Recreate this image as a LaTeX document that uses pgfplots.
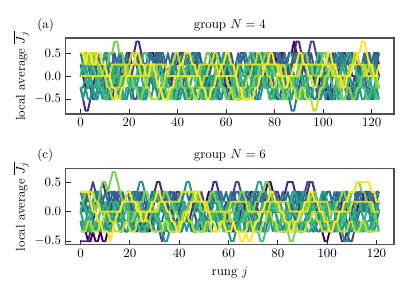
\documentclass[border=0pt]{standalone}
\usepackage{pgfplots}
\usepackage{pgfplotstable}
\pgfplotsset{compat=1.18}
\definecolor{v0}{HTML}{440154}
\definecolor{v1}{HTML}{482576}
\definecolor{v2}{HTML}{414487}
\definecolor{v3}{HTML}{35608D}
\definecolor{v4}{HTML}{2A788E}
\definecolor{v5}{HTML}{21918C}
\definecolor{v6}{HTML}{22A884}
\definecolor{v7}{HTML}{44BF70}
\definecolor{v8}{HTML}{7AD151}
\definecolor{v9}{HTML}{BDDF26}
\definecolor{v10}{HTML}{D8E219}
\definecolor{v11}{HTML}{FDE725}
\definecolor{e1}{HTML}{2C728E}
\definecolor{e2}{HTML}{1E9B8A}
\definecolor{e3}{HTML}{2EB37C}
\definecolor{e4}{HTML}{3B528B}
\definecolor{framegray}{HTML}{505050}
% top panel: values in units of 1/4, one row per curve, one column per rung j = 0..123
\pgfplotstableread[header=false]{
0 0 -1 -1 0 1 1 0 -1 -1 -2 -2 -1 0 0 -1 -1 0 1 2 2 1 1 2 2 1 0 0 1 2 2 1 2 2 1 1 0 -1 -1 0 0 1 1 0 -1 -2 -2 -1 -1 0 1 1 0 0 -1 -1 0 1 1 0 -1 -1 -2 -2 -1 -2 -2 -1 0 0 1 1 0 -1 -1 0 0 1 1 2 2 1 1 2 2 1 2 2 3 2 1 1 2 2 1 0 0 -1 -1 0 0 -1 -2 -2 -1 -1 0 0 1 1 0 -1 -1 -2 -2 -1 0 1 1 0 0 1 1 0
-1 -2 -3 -3 -2 -1 0 0 1 1 0 -1 -1 0 1 1 2 2 1 1 2 2 2 3 3 2 1 1 0 0 -1 -1 0 0 -1 -2 -2 -1 0 1 1 2 2 1 1 0 0 1 2 2 1 0 0 -1 -2 -2 -1 0 0 1 1 0 -1 -1 -2 -2 -1 -1 0 1 2 2 1 1 0 0 1 1 2 2 1 1 2 2 1 0 0 1 2 3 3 2 2 1 1 0 -1 -1 -2 -2 -1 -2 -2 -1 0 0 1 1 2 2 1 1 0 0 -1 -1 0 1 2 2 1 2 2 1
1 1 0 -1 -1 -2 -2 -1 0 0 -1 -1 -2 -2 -1 0 0 1 1 0 0 -1 -2 -2 -1 -1 -2 -2 -1 0 0 1 1 0 -1 -1 0 0 -1 -2 -2 -1 -1 0 1 1 0 0 -1 -1 -2 -2 -1 -1 0 0 -1 -2 -2 -1 0 0 1 1 0 0 -1 -1 -2 -2 -1 -1 0 1 1 0 -1 -1 0 0 -1 -2 -2 -1 0 0 1 1 0 -1 -1 0 1 2 2 3 3 2 1 1 0 0 -1 -2 -2 -1 0 0 -1 -1 -2 -2 -1 0 0 1 1 0 -1 -1 -2 -2 -1 -1
2 2 1 1 2 2 1 0 0 1 2 2 1 1 0 0 -1 -1 0 1 1 2 2 1 0 0 1 1 2 2 1 1 2 2 1 1 0 0 1 2 2 1 0 0 1 1 2 2 1 0 0 1 2 2 1 1 0 0 1 1 2 2 1 0 0 1 2 2 1 1 0 -1 -1 0 1 1 2 2 1 1 2 2 1 0 0 -1 -1 0 1 2 2 1 1 2 2 1 0 0 1 1 2 2 1 1 0 0 1 2 2 1 1 2 2 1 0 0 1 1 2 2 1 1 2 2
0 0 1 1 0 -1 -1 0 0 -1 -2 -2 -1 -1 0 0 -1 -1 -2 -2 -1 0 0 -1 -1 -2 -2 -1 -1 0 0 -1 -2 -2 -1 0 0 -1 -1 -2 -2 -1 -1 -2 -2 -1 0 0 -1 -1 0 0 -1 -2 -2 -1 -1 0 0 -1 -1 -2 -2 -1 0 0 -1 -1 -2 -2 -1 -1 -2 -2 -1 0 0 -1 -2 -2 -1 -1 0 0 -1 -2 -2 -3 -3 -2 -1 -1 0 0 -1 -1 -2 -2 -1 -1 0 0 -1 -1 -2 -2 -1 0 0 -1 -1 -2 -2 -1 -1 0 0 -1 -1 -2 -2 -1 -1 0
-1 -1 0 0 -1 -1 -2 -2 -1 -1 0 1 1 0 0 1 2 2 1 1 0 0 -1 -1 0 0 1 1 0 0 -1 -1 -2 -2 -1 -1 0 0 1 1 0 0 -1 -1 0 1 1 2 2 1 1 0 0 1 1 2 2 1 1 0 0 -1 -1 0 0 1 1 0 0 -1 -1 0 1 1 2 2 1 1 0 0 1 1 0 0 -1 -1 0 0 -1 -1 -2 -2 -1 -1 0 0 1 1 0 0 -1 -1 0 0 1 1 2 2 1 1 0 0 -1 -1 0 0 1 1 0 0 -1 -1 0 0
0 1 1 0 0 -1 -1 0 1 1 2 2 1 1 0 0 -1 -2 -2 -1 -1 0 0 -1 -1 -2 -2 -1 0 0 1 1 0 0 -1 -1 -2 -2 -1 -1 0 0 1 1 2 2 1 0 0 -1 -1 -2 -2 -1 -1 0 0 1 1 2 2 1 1 0 0 -1 -1 -2 -2 -1 -1 0 0 1 1 0 0 -1 -1 0 0 1 1 0 -1 -1 -2 -2 -1 -1 0 0 -1 -1 -2 -2 -1 -1 0 0 1 1 0 0 -1 -1 0 0 1 1 2 2 1 1 0 -1 -1 0 0 1 1 0 0 -1
1 1 2 2 1 1 0 0 -1 -1 -2 -2 -1 -1 0 0 1 1 0 0 -1 -1 0 0 1 1 2 2 1 1 0 0 -1 -1 0 0 -1 -1 -2 -2 -1 -1 0 0 1 1 0 0 -1 -1 -2 -2 -1 -1 -2 -2 -1 -1 0 0 1 1 0 0 -1 -1 0 0 1 1 2 2 1 1 0 0 -1 -1 -2 -2 -1 -1 -2 -2 -1 -1 0 0 -1 -1 -2 -2 -1 -1 0 0 1 1 2 2 1 1 0 0 -1 -1 -2 -2 -1 -1 0 0 1 1 0 0 -1 -1 -2 -2 -1 -1 -2 -2
2 2 1 1 2 2 1 1 0 0 1 1 2 2 3 3 2 2 1 1 0 0 -1 -1 -2 -2 -1 -1 0 0 1 1 0 0 -1 -1 -2 -2 -1 -1 0 0 -1 -1 -2 -2 -1 -1 0 0 1 1 2 2 1 1 0 0 -1 -1 -2 -2 -1 -1 -2 -2 -1 -1 -2 -2 -1 -1 0 0 1 1 2 2 1 1 0 0 -1 -1 -2 -2 -1 -1 0 0 1 1 2 2 1 1 0 0 1 1 2 2 1 1 0 0 -1 -1 -2 -2 -1 -1 -2 -2 -1 -1 0 0 1 1 0 0 -1 -1
2 2 2 1 1 2 2 1 1 0 0 -1 -1 -2 -2 -1 -1 0 0 1 1 2 2 1 1 0 0 -1 -1 -2 -2 -2 -2 -1 -1 0 0 1 1 2 2 1 1 0 0 -1 -1 -2 -2 -1 -1 0 0 1 1 2 2 1 1 0 0 -1 -1 -2 -2 -2 -2 -1 -1 0 0 1 1 2 2 1 1 0 0 -1 -1 0 0 1 1 0 0 -1 -1 -2 -2 -1 -1 -2 -2 -2 -3 -3 -2 -1 -1 0 0 1 1 0 0 -1 -1 0 0 1 1 2 2 1 1 0 0 1 1 0 0 -1
0 0 0 0 0 0 0 0 0 0 0 0 0 1 1 1 1 1 1 0 0 0 0 0 0 0 0 1 1 1 1 1 1 1 1 1 0 0 0 0 0 0 0 0 0 0 0 0 0 1 1 1 1 1 1 1 1 0 0 0 0 0 0 0 0 1 1 1 1 1 1 1 1 1 1 1 1 1 1 1 1 1 1 0 0 0 0 0 0 0 0 1 1 1 1 1 1 1 1 1 1 1 1 1 0 0 0 0 0 0 0 0 1 1 1 1 1 1 0 0 0 0 0 0
2 2 1 2 2 1 1 2 2 1 1 0 0 -1 -1 -2 -2 -1 -1 0 0 1 1 2 2 1 1 0 0 1 1 0 -1 -1 -2 -2 -2 -1 -1 0 0 1 1 2 2 2 1 1 0 0 -1 -1 -2 -2 -1 -1 0 0 1 1 2 2 1 1 0 -1 -1 -2 -2 -2 -2 -2 -1 -1 0 0 1 1 2 2 1 1 0 0 -1 -1 0 0 1 1 2 2 1 1 0 0 -1 -1 0 0 1 1 2 2 1 1 0 0 -1 -1 0 0 1 1 2 2 3 3 2 1 1 0 0 1
2 1 2 1 2 2 1 2 1 1 2 1 2 2 1 0 1 2 1 2 1 2 2 1 2 1 0 0 1 2 1 2 1 2 2 1 2 1 0 1 2 1 2 2 1 2 1 2 1 1 0 -1 0 1 2 1 2 2 1 2 1 2 1 0 1 2 1 2 2 1 2 1 2 1 1 2 1 2 2 1 0 1 2 1 2 1 2 2 1 2 1 2 1 2 1 0 0 1 2 1 2 2 1 2 1 2 1 1 2 1 2 2 1 2 1 0 1 2 1 2 1 2 1 2
-1 -2 -1 -2 -2 -1 -2 -1 -1 -2 -1 -2 -2 -1 0 -1 -2 -1 -2 -2 -1 -2 -1 -1 -2 -1 -2 -2 -1 -2 -1 0 -1 -2 -1 -2 -2 -1 -2 -1 -2 -2 -1 -2 -1 -1 -2 -1 -2 -2 -1 -2 -1 0 0 -1 -2 -1 -2 -1 -2 -2 -1 -2 -1 -2 -2 -1 -1 -2 -1 -2 -1 -2 -2 -1 0 -1 -2 -1 -2 -1 -2 -2 -1 -2 -1 -2 -1 -1 -2 -1 -2 -2 -1 -2 -1 0 -1 -2 -1 -2 -1 -2 -2 -1 -2 -1 -2 -2 -1 -1 -2 -1 -2 -1 -2 -2 -1 -2 -1 -2 -1 -2
0 1 0 -1 0 1 0 -1 0 0 1 0 -1 0 1 1 0 -1 0 1 0 -1 -1 0 1 0 -1 0 1 0 0 -1 0 1 0 -1 0 1 1 0 -1 0 1 0 -1 -1 0 1 0 -1 0 1 0 0 -1 0 1 0 -1 0 1 1 0 -1 0 1 0 -1 0 1 0 -1 -1 0 1 0 -1 0 1 0 0 1 0 -1 0 1 1 0 -1 0 1 0 -1 0 1 0 -1 -1 0 1 0 -1 0 1 0 0 -1 0 1 0 -1 0 1 1 0 -1 0 1 0 -1 0 1 0 -1
1 0 1 2 1 0 1 2 2 1 0 1 0 1 2 1 2 1 0 1 1 0 1 2 1 2 1 0 1 0 1 2 2 1 0 1 0 1 2 1 0 1 1 0 1 2 1 0 1 2 1 0 1 0 1 2 2 1 0 1 0 1 2 1 0 0 1 2 1 0 1 0 1 2 1 2 1 0 1 1 0 1 2 1 0 1 0 1 2 2 1 0 1 0 1 2 1 0 1 2 1 0 0 1 2 1 0 1 2 1 0 1 2 1 0 1 1 0 1 2 1 0 1 2
}\rawtop
% bottom panel: values in units of 1/6, one row per curve, one column per rung j = 0..121
\pgfplotstableread[header=false]{
-1 -2 -2 -3 -3 -2 -3 -3 -2 -3 -3 -2 -1 -1 0 0 -1 -1 -2 -2 -1 0 1 1 0 0 -1 -2 -2 -1 0 0 1 2 2 1 0 0 -1 -1 0 1 1 0 -1 -1 -2 -2 -1 0 0 1 2 2 1 1 0 -1 -1 0 0 -1 -2 -2 -1 0 0 1 1 2 2 1 0 0 1 2 3 3 2 1 0 0 -1 -1 0 1 1 0 -1 -2 -2 -1 0 0 1 1 0 -1 -2 -3 -3 -2 -1 -1 0 0 1 1 0 0 -1 -1 0 1 1 2 2 1 0 0 1 1
-3 -3 -3 -3 -2 -1 0 1 2 3 2 2 1 0 -1 -1 0 1 1 2 2 1 0 0 -1 -2 -2 -1 0 1 2 3 3 2 1 1 0 0 1 2 2 1 0 -1 -1 0 1 2 2 1 0 0 1 2 3 3 2 1 0 0 -1 -2 -2 -1 0 1 1 0 0 -1 -1 0 1 2 2 1 0 0 1 2 2 1 1 2 3 3 3 2 1 0 0 1 2 3 3 2 1 0 -1 -1 0 1 1 0 -1 -2 -3 -3 -2 -1 0 0 1 2 2 1 0 0 -1 0 1 1
0 1 1 2 2 3 2 1 1 0 -1 -1 0 0 1 2 2 1 0 0 -1 -1 -2 -2 -1 0 0 1 1 0 -1 -1 -2 -3 -2 -1 0 0 -1 -1 -2 -2 -1 0 1 1 0 -1 -1 -2 -2 -1 0 0 1 1 0 0 -1 -1 0 1 2 3 3 2 1 1 0 -1 -1 -2 -2 -1 0 0 1 1 2 2 1 0 0 -1 -1 -2 -2 -1 0 1 2 2 3 3 3 2 1 1 0 -1 -1 -2 -2 -1 0 0 -1 -1 -2 -3 -3 -2 -1 0 0 1 1 2 2 1 0 0
2 2 1 0 0 1 2 2 1 1 0 0 1 2 2 1 1 0 -1 -1 0 1 2 2 1 0 0 1 1 2 2 1 1 0 0 1 2 2 1 0 0 -1 -1 0 1 1 2 2 1 1 0 0 1 2 2 1 0 0 -1 -1 0 1 1 2 2 1 0 -1 -1 0 1 2 2 1 1 0 0 1 2 2 1 0 -1 -1 0 0 1 2 2 1 1 0 0 -1 -2 -2 -1 0 1 1 2 2 1 0 0 1 1 2 2 1 0 -1 -1 0 0 1 2 2 1 1 2 2
-1 -1 -2 -2 -1 0 0 -1 -1 -2 -2 -1 0 0 -1 -1 -2 -2 -1 -1 0 0 -1 -1 -2 -2 -1 0 0 -1 -2 -2 -1 -1 0 0 -1 -2 -2 -1 -1 0 0 -1 -1 -2 -2 -1 -1 0 0 -1 -2 -2 -1 -1 0 0 -1 -1 -2 -2 -1 0 0 -1 -1 -2 -2 -1 0 0 -1 -1 -2 -2 -1 -1 0 0 -1 -2 -2 -1 -1 0 0 -1 -1 -2 -2 -1 0 0 -1 -1 -2 -2 -1 0 0 -1 -2 -2 -1 -1 0 0 -1 -2 -2 -1 -1 0 0 -1 -1 -2 -2 -1 -1 0
1 1 0 0 1 1 2 2 1 0 0 -1 -1 0 1 1 0 0 1 2 2 1 1 2 3 3 2 1 0 0 -1 -1 -2 -2 -3 -3 -2 -1 0 0 1 1 2 3 3 2 1 1 0 0 -1 -1 0 0 1 1 0 -1 -1 -2 -2 -3 -3 -2 -1 -1 0 0 1 1 0 0 -1 -1 0 0 1 1 0 0 -1 -1 -2 -2 -1 -1 0 0 1 1 2 2 1 1 0 0 -1 -1 0 0 1 1 0 0 -1 -2 -2 -3 -3 -2 -1 -1 0 0 1 1 0 0 -1 -1 0 0
0 -1 -1 0 0 -1 -1 -2 -2 -1 0 0 1 1 0 0 -1 -1 0 0 1 1 0 0 -1 -1 0 0 1 1 2 2 1 1 0 0 -1 -1 0 0 1 1 0 0 -1 -1 -2 -2 -1 -1 0 0 1 1 2 2 1 1 0 0 1 1 0 0 -1 -1 0 0 1 1 2 2 3 3 2 2 1 1 0 0 -1 -1 0 0 1 1 2 2 1 1 0 0 -1 -1 0 0 1 1 2 2 1 1 0 0 -1 -1 0 0 1 1 0 0 -1 -1 -2 -2 -1 -1 0 0 1 1
-2 -2 -1 -1 -2 -2 -1 -1 0 0 -1 -1 -2 -2 -1 -1 -2 -2 -1 -1 0 0 -1 -1 -2 -2 -2 -1 -1 0 0 -1 -1 -2 -2 -1 -1 -2 -2 -2 -1 -1 0 0 -1 -1 -2 -2 -1 -1 -2 -2 -1 -1 0 0 -1 -1 -2 -2 -2 -1 -1 -2 -2 -1 -1 0 0 -1 -1 -2 -2 -3 -3 -2 -2 -1 -1 -2 -2 -1 -1 0 0 -1 -1 -2 -2 -2 -1 -1 -2 -2 -1 -1 0 0 -1 -1 -2 -2 -1 -1 -2 -2 -1 -1 0 0 -1 -1 -2 -2 -2 -1 -1 -2 -2 -1 -1 -2
1 1 2 2 1 1 0 1 2 3 3 2 3 4 4 3 2 1 0 0 -1 -1 0 0 1 1 2 2 1 1 0 0 1 1 2 2 1 1 0 0 -1 -1 0 0 1 1 2 2 1 0 0 1 1 2 2 1 1 0 0 -1 -1 0 0 1 1 2 2 1 1 0 0 1 1 2 2 3 3 2 1 1 0 0 -1 -1 -2 -3 -3 -2 -1 -1 0 0 1 1 2 2 1 1 0 0 -1 -1 0 0 1 1 2 2 1 1 2 2 3 3 2 2 1 1 0 0 -1 -1
-2 -2 -2 -1 -1 -2 -2 -2 -1 -1 0 0 -1 -1 -2 -2 -2 -2 -1 -1 -2 -2 -2 -1 -1 0 0 -1 -1 -2 -2 -2 -2 -2 -1 -1 -2 -2 -2 -2 -1 -1 0 0 -1 -1 -2 -2 -2 -2 -2 -1 -1 -2 -2 -2 -2 -1 -1 0 0 -1 -1 -2 -2 -2 -2 -2 -1 -1 -2 -2 -2 -2 -1 -1 0 0 -1 -1 -2 -2 -2 -2 -2 -1 -1 -2 -2 -2 -2 -2 -1 -1 0 0 -1 -1 -2 -2 -2 -2 -2 -1 -1 -2 -2 -2 -2 -1 -1 -2 -2 -2 -1 -1 -2 -2 -2 -2 -2 -2
2 2 2 2 2 2 1 1 0 0 0 0 0 0 0 0 0 1 1 1 1 1 1 1 0 0 0 0 0 0 0 0 1 1 1 1 1 1 1 1 1 2 2 2 2 2 2 1 1 1 1 1 0 0 0 0 0 0 0 0 0 1 1 1 1 1 1 1 0 0 0 0 0 0 0 0 0 1 1 1 1 1 1 1 1 0 0 0 0 0 0 0 0 1 1 1 1 1 1 1 1 0 0 0 0 0 0 0 0 0 1 1 1 1 1 1 1 1 1 0 0 0
2 2 2 2 1 0 0 -1 -1 -2 -2 -2 -3 -2 -1 0 0 1 1 2 2 1 1 0 0 -1 -1 0 0 1 1 2 2 1 1 0 0 -1 -1 -2 -2 -1 -1 0 0 1 1 2 2 1 1 0 0 -1 -1 -2 -2 -1 -1 -2 -2 -2 -1 -2 -2 -3 -3 -2 -3 -3 -2 -1 -1 0 0 1 1 2 2 1 1 0 0 -1 -1 -2 -2 -1 -1 0 0 1 1 2 2 1 1 0 0 -1 -1 -2 -2 -1 -1 0 0 1 1 2 2 2 3 3 3 3 3 3 2 2 1 1
2 1 2 1 2 2 1 2 1 1 2 1 2 2 1 0 1 2 1 2 1 2 2 1 2 1 0 0 1 2 1 2 1 2 2 1 2 1 0 1 2 1 2 2 1 2 1 2 1 1 0 1 0 1 2 1 2 2 1 2 1 2 1 0 1 2 1 2 2 1 2 1 2 1 1 2 1 2 2 1 0 1 2 1 2 1 2 2 1 2 1 2 1 2 1 0 0 1 2 1 2 2 1 2 1 2 1 1 2 1 2 2 1 2 1 0 1 2 1 2 1 2
-1 -2 -1 -2 -2 -1 -2 -1 -1 -2 -1 -2 -2 -1 0 -1 -2 -1 -2 -2 -1 -2 -1 -1 -2 -1 -2 -2 -1 -2 -1 0 -1 -2 -1 -2 -2 -1 -2 -1 -2 -2 -1 -2 -1 -1 -2 -1 -2 -2 -1 -2 -1 0 0 -1 -2 -1 -2 -1 -2 -2 -1 -2 -1 -2 -2 -1 -1 -2 -1 -2 -1 -2 -2 -1 0 -1 -2 -1 -2 -1 -2 -2 -1 -2 -1 -2 -1 -1 -2 -1 -2 -2 -1 -2 -1 0 -1 -2 -1 -2 -1 -2 -2 -1 -2 -1 -2 -2 -1 -1 -2 -1 -2 -1 -2 -2 -1 -2 -1 -2
0 1 0 -1 0 1 0 -1 0 0 1 0 -1 0 1 1 0 -1 0 1 0 -1 -1 0 1 0 -1 0 1 0 0 -1 0 1 0 -1 0 1 1 0 -1 0 1 0 -1 -1 0 1 0 -1 0 1 0 0 -1 0 1 0 -1 0 1 1 0 -1 0 1 0 -1 0 1 0 -1 -1 0 1 0 -1 0 1 0 0 1 0 -1 0 1 1 0 -1 0 1 0 -1 0 1 0 -1 -1 0 1 0 -1 0 1 0 0 -1 0 1 0 -1 0 1 1 0 -1 0 1 0 -1 0 1
1 0 1 2 1 0 1 2 2 1 0 1 0 1 2 1 2 1 0 1 1 0 1 2 1 2 1 0 1 0 1 2 2 1 0 1 0 1 2 1 0 1 1 0 1 2 1 0 1 2 1 0 1 0 1 2 2 1 0 1 0 1 2 1 0 0 1 2 1 0 1 0 1 2 1 2 1 0 1 1 0 1 2 1 0 1 0 1 2 2 1 0 1 0 1 2 1 0 1 2 1 0 0 1 2 1 0 1 2 1 0 1 2 1 0 1 1 0 1 2 1 0
}\rawbot
\pgfplotstabletranspose\tabtop{\rawtop}
\pgfplotstabletranspose\tabbot{\rawbot}
\pgfplotsset{
  panel/.style={
    scale only axis, width=254.7pt, height=59pt,
    axis line style={draw=framegray, line width=1pt},
    tick align=inside, xtick pos=bottom, ytick pos=left,
    major tick length=4pt,
    tick style={draw=black!85, line width=0.7pt},
    xtick={0,20,...,120},
    ytick={-0.5,0,0.5},
    yticklabel style={/pgf/number format/fixed, /pgf/number format/fixed zerofill, /pgf/number format/precision=1},
    ylabel={local average $\overline{J_j}$},
    every axis y label/.style={at={(axis description cs:-0.136,0.5)}, rotate=90, anchor=center},
    every axis title/.style={at={(axis description cs:0.5,1.13)}, anchor=base},
    every axis plot/.append style={line width=1.5pt, line join=round, mark=none},
    clip mode=individual,
  },
}
\begin{document}
\begin{tikzpicture}
\useasboundingbox (-51pt,-137.3pt) rectangle (264.9pt,88.5pt);
\begin{axis}[panel, at={(0,0)}, anchor=south west,
  xmin=-6.15, xmax=129.15, ymin=-0.825, ymax=0.825,
  title={group $N=4$}]
\foreach \k/\c in {1/v0,2/v1,16/e4,3/v2,4/v3,13/e1,5/v4,6/v5,14/e2,7/v6,15/e3,8/v7,9/v8,10/v9,11/v10,12/v11}{
  \edef\tmp{\noexpand\addplot[color=\c] table[x expr=\noexpand\coordindex, y expr=\noexpand\thisrowno{\k}/4] {\noexpand\tabtop};}
  \tmp
}
\node[anchor=base west] at (axis description cs:-0.1,1.13) {(a)};
\end{axis}
\begin{axis}[panel, at={(0,-101.4pt)}, anchor=south west,
  xmin=-6.05, xmax=127.05, ymin=-0.5583, ymax=0.725,
  title={group $N=6$},
  xlabel={rung $j$},
  every axis x label/.style={at={(axis description cs:0.5,-0.362)}, anchor=center}]
\foreach \k/\c in {1/v0,2/v1,16/e4,3/v2,4/v3,13/e1,5/v4,6/v5,14/e2,7/v6,15/e3,8/v7,9/v8,10/v9,11/v10,12/v11}{
  \edef\tmp{\noexpand\addplot[color=\c] table[x expr=\noexpand\coordindex, y expr=\noexpand\thisrowno{\k}/6] {\noexpand\tabbot};}
  \tmp
}
\node[anchor=base west] at (axis description cs:-0.1,1.14) {(c)};
\end{axis}
\end{tikzpicture}
\end{document}
